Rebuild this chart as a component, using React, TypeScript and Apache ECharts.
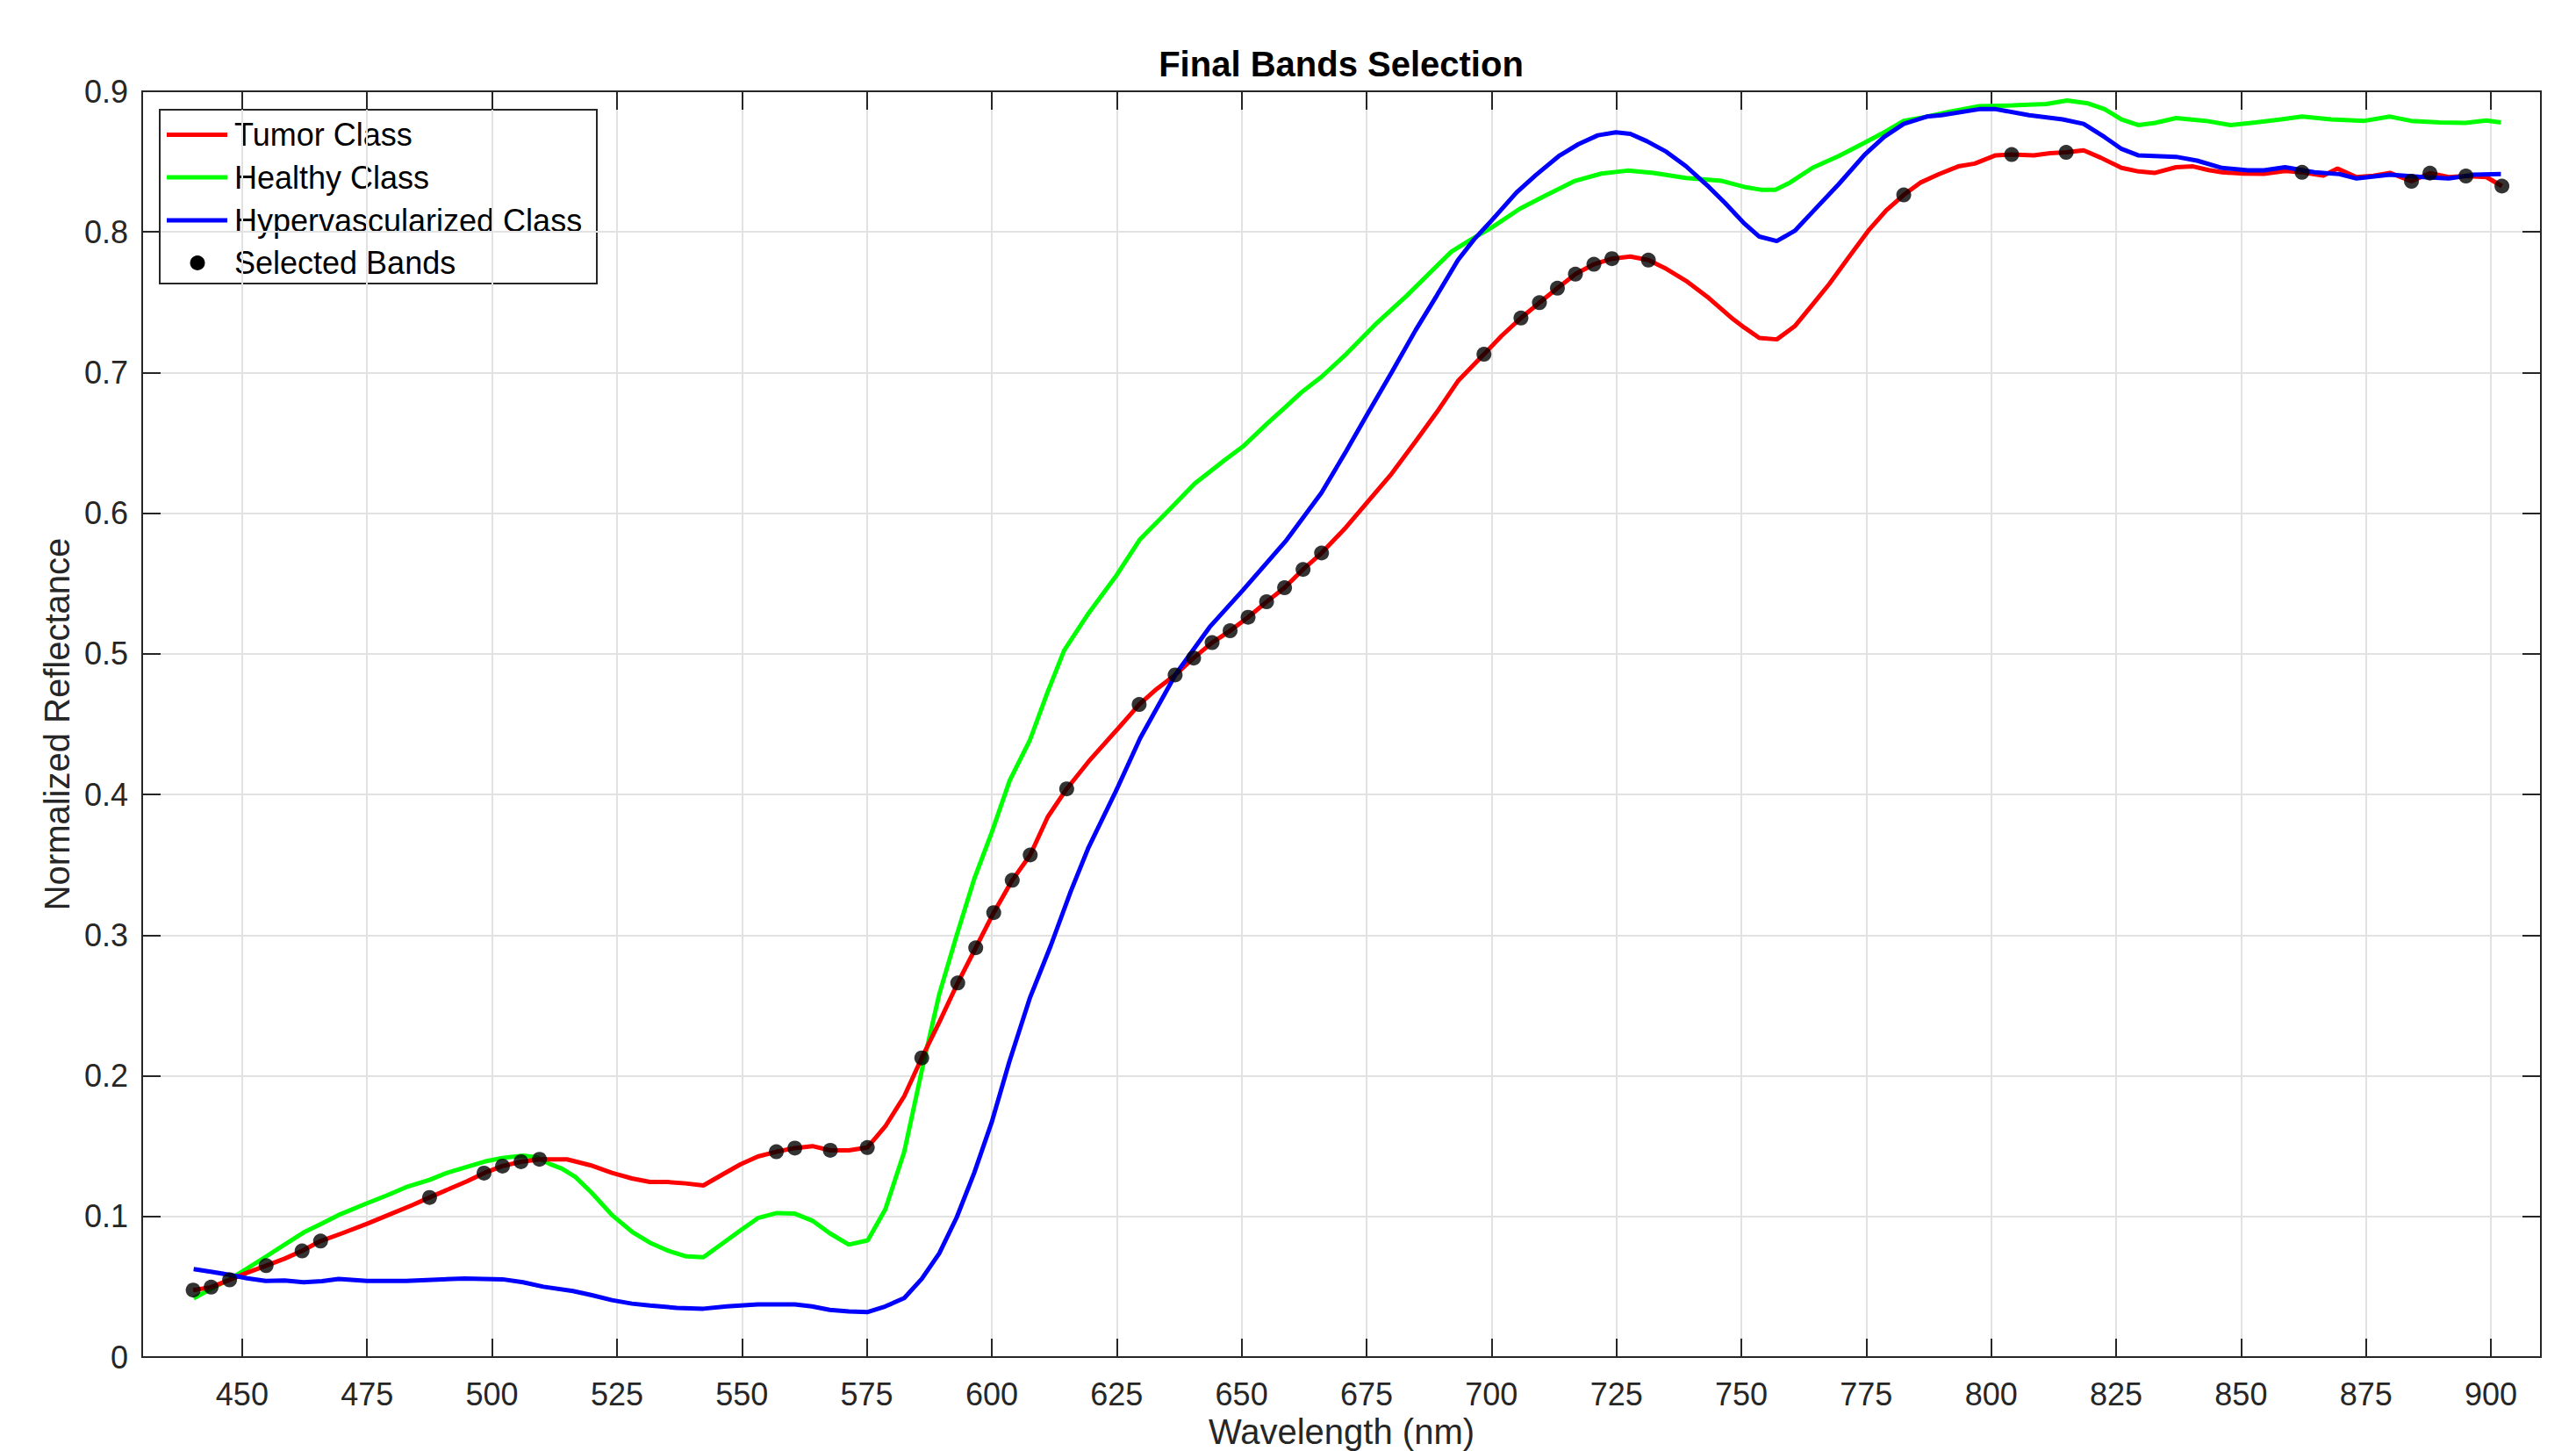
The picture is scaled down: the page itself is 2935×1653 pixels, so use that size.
import React, { useEffect, useRef } from "react";
import * as echarts from "echarts";

const chartTitle = "Final Bands Selection";
const xAxisName = "Wavelength (nm)";
const yAxisName = "Normalized Reflectance";
const legendNames = ["Tumor Class", "Healthy Class", "Hypervascularized Class", "Selected Bands"];
const xTickValues = [450, 475, 500, 525, 550, 575, 600, 625, 650, 675, 700, 725, 750, 775, 800, 825, 850, 875, 900];

const tumorClass: [number, number][] = [
  [440.2, 0.0476], [443.8, 0.0497], [447.5, 0.0549], [451, 0.06], [454.8, 0.065], [458.5, 0.07], [462, 0.0755],
  [465.7, 0.0825], [470, 0.088], [475, 0.0948], [479.9, 0.102], [484, 0.108], [487.5, 0.1135], [491.6, 0.1198],
  [495, 0.125], [498.4, 0.1308], [502.1, 0.1358], [505.8, 0.1389], [509.5, 0.1406], [515, 0.1406], [519.7, 0.1364],
  [524, 0.131], [528, 0.127], [531.6, 0.1245], [535.1, 0.1245], [538.7, 0.1235], [542.3, 0.122], [546.2, 0.13],
  [549.7, 0.137], [553.2, 0.1426], [556.9, 0.146], [560.6, 0.1486], [564.1, 0.15], [567.7, 0.147], [571.4, 0.147],
  [575.1, 0.149], [578.7, 0.164], [582.5, 0.1855], [586, 0.2127], [589.5, 0.238], [593.2, 0.266], [596.8, 0.291],
  [600.4, 0.316], [604.1, 0.339], [607.7, 0.357], [611.2, 0.384], [615, 0.404], [619.4, 0.4235], [624.8, 0.445],
  [629.5, 0.464], [633, 0.475], [636.7, 0.485], [640.4, 0.497], [644.1, 0.508], [647.7, 0.5164], [651.3, 0.526],
  [655, 0.537], [658.6, 0.547], [662.3, 0.56], [666, 0.5717], [670.9, 0.59], [675.2, 0.608], [680, 0.628],
  [684.8, 0.651], [689.1, 0.672], [693.3, 0.694], [698.5, 0.713], [702, 0.726], [705.9, 0.7388], [709.6, 0.7497],
  [713.2, 0.76], [716.8, 0.77], [720.5, 0.777], [724.1, 0.781], [727.8, 0.7825], [731.4, 0.78], [735, 0.7737],
  [738.9, 0.7653], [743.5, 0.753], [748, 0.739], [750.6, 0.732], [753.6, 0.7246], [757.1, 0.7236], [760.7, 0.733],
  [764.3, 0.7486], [767.6, 0.763], [771.5, 0.782], [775.4, 0.8008], [779, 0.8154], [782.5, 0.8263], [785.8, 0.835],
  [789.5, 0.841], [793.4, 0.8466], [796.7, 0.8486], [800.9, 0.8545], [804.1, 0.855], [808.5, 0.8545], [811.8, 0.856],
  [815, 0.8566], [818.5, 0.858], [821.9, 0.8528], [826.1, 0.8455], [829.5, 0.843], [832.8, 0.842], [837, 0.846],
  [840.4, 0.8466], [843.5, 0.844], [846.2, 0.8424], [850.4, 0.8415], [854.6, 0.8413], [858.8, 0.8434], [862.2, 0.8424],
  [866.4, 0.84], [869.3, 0.845], [873.1, 0.839], [876.5, 0.84], [879.8, 0.842], [884.1, 0.836], [887.8, 0.8418],
  [891.5, 0.839], [895, 0.8397], [899.1, 0.839], [902.2, 0.8326],
];

const healthyClass: [number, number][] = [
  [440.3, 0.0418], [444, 0.049], [447.5, 0.0553], [451, 0.063], [454.7, 0.0713], [458.5, 0.08], [462.3, 0.0886],
  [466, 0.095], [469.3, 0.101], [475, 0.1094], [479, 0.115], [482.8, 0.1208], [487.5, 0.126], [491, 0.131],
  [495.1, 0.1354], [498.5, 0.139], [502.1, 0.1416], [506.2, 0.1433], [509, 0.142], [511.5, 0.1374], [514, 0.134],
  [516.7, 0.128], [519.9, 0.117], [524, 0.101], [528.1, 0.0889], [531.6, 0.0813], [535.1, 0.0758], [538.9, 0.0716],
  [542.3, 0.071], [546.2, 0.081], [549.7, 0.09], [553.2, 0.0988], [557, 0.1024], [560.6, 0.102], [564.1, 0.097],
  [567.6, 0.088], [571.4, 0.08], [575.2, 0.083], [578.7, 0.105], [582.5, 0.146], [586, 0.2036], [589.5, 0.258],
  [593, 0.3], [596.5, 0.34], [600, 0.373], [603.6, 0.41], [607.6, 0.4383], [611.2, 0.473], [614.5, 0.5025],
  [619.4, 0.529], [624.8, 0.555], [629.7, 0.5816], [635.7, 0.603], [640.6, 0.621], [646.7, 0.638], [650.3, 0.6475],
  [655.2, 0.664], [658.8, 0.6755], [662, 0.686], [666, 0.697], [670.9, 0.713], [677, 0.735], [683, 0.7545],
  [689.1, 0.776], [692, 0.786], [695.9, 0.7946], [700, 0.803], [705.7, 0.8165], [710.9, 0.826], [716.7, 0.8363],
  [722, 0.8415], [727.2, 0.8436], [732.4, 0.842], [738.9, 0.8384], [746.1, 0.8363], [750.6, 0.832], [753.9, 0.83],
  [756.8, 0.83], [759.7, 0.835], [764.3, 0.8457], [769.5, 0.854], [774.7, 0.8635], [778, 0.8697], [782.5, 0.879],
  [787.1, 0.882], [791.5, 0.8854], [797.6, 0.8894], [804.3, 0.89], [811, 0.891], [815.2, 0.8935], [819.4, 0.8914],
  [822.7, 0.8873], [826.1, 0.88], [829.4, 0.876], [832.8, 0.8775], [837, 0.881], [842.9, 0.879], [847.9, 0.876],
  [852.9, 0.8778], [858, 0.88], [862.2, 0.882], [868, 0.88], [874.7, 0.879], [879.8, 0.882], [884, 0.879],
  [889.8, 0.8778], [894.9, 0.8775], [899.1, 0.8793], [902, 0.8778],
];

const hypervascularizedClass: [number, number][] = [
  [440.3, 0.0626], [444, 0.0605], [447.7, 0.0584], [451, 0.056], [454.7, 0.0542], [458.5, 0.0545], [462.3, 0.0532],
  [466, 0.054], [469.3, 0.0555], [475, 0.0542], [482.8, 0.0542], [488, 0.055], [494.5, 0.0558], [502.1, 0.0553],
  [506.2, 0.0532], [510.3, 0.05], [516.2, 0.047], [520, 0.044], [524, 0.0405], [528, 0.038], [531.6, 0.0366],
  [537, 0.035], [542.3, 0.0344], [547, 0.036], [553.2, 0.0375], [560.6, 0.0375], [564, 0.036], [567.6, 0.0335],
  [571.4, 0.0325], [575.2, 0.032], [578.7, 0.036], [582.5, 0.042], [586, 0.0556], [589.5, 0.0737], [593, 0.0994],
  [596.5, 0.131], [600, 0.167], [603.5, 0.2097], [607.6, 0.255], [611.8, 0.2924], [615.8, 0.331], [619.4, 0.3626],
  [624.8, 0.402], [629.7, 0.44], [636.9, 0.486], [643.6, 0.519], [650.3, 0.5454], [658.8, 0.58], [666, 0.6146],
  [670.9, 0.644], [675.2, 0.6706], [680, 0.7], [684.8, 0.73], [689.1, 0.755], [693.3, 0.78], [696.5, 0.7946],
  [700, 0.808], [705, 0.828], [708.9, 0.8405], [713.5, 0.854], [717.4, 0.8624], [721.3, 0.8687], [724.9, 0.8708],
  [727.8, 0.8697], [731.1, 0.8645], [735, 0.857], [738.9, 0.8468], [743.5, 0.832], [746.7, 0.8207], [750.6, 0.806],
  [753.6, 0.7967], [757.1, 0.7935], [760.7, 0.8008], [764.3, 0.8144], [769.5, 0.834], [774.7, 0.855], [778.6, 0.8676],
  [782.5, 0.8768], [787.1, 0.882], [790, 0.883], [797.6, 0.8873], [800.9, 0.8873], [807.6, 0.883], [814.3, 0.88],
  [818.5, 0.8768], [822.7, 0.8674], [826.1, 0.859], [829.4, 0.8545], [837, 0.8534], [841.2, 0.8507], [846.2, 0.8455],
  [851.3, 0.8438], [854.6, 0.8438], [858.8, 0.846], [864.7, 0.8424], [869.7, 0.8411], [873.1, 0.838], [879.8, 0.8407],
  [886.5, 0.839], [891.5, 0.838], [896.6, 0.8407], [902, 0.8411],
];

const selectedBands: [number, number][] = [
  [440.2, 0.0476], [443.8, 0.0497], [447.5, 0.0549], [454.8, 0.065], [462, 0.0755], [465.7, 0.0825], [487.5, 0.1135],
  [498.4, 0.1308], [502.1, 0.1358], [505.8, 0.1389], [509.5, 0.1406], [556.9, 0.146], [560.6, 0.1486], [567.7, 0.147],
  [575.1, 0.149], [586, 0.2127], [593.2, 0.266], [596.8, 0.291], [600.4, 0.316], [604.1, 0.339], [607.7, 0.357],
  [615, 0.404], [629.5, 0.464], [636.7, 0.485], [640.4, 0.497], [644.1, 0.508], [647.7, 0.5164], [651.3, 0.526],
  [655, 0.537], [658.6, 0.547], [662.3, 0.56], [666, 0.5717], [698.5, 0.713], [705.9, 0.7388], [709.6, 0.7497],
  [713.2, 0.76], [716.8, 0.77], [720.5, 0.777], [724.1, 0.781], [731.4, 0.78], [782.5, 0.8263], [804.1, 0.855],
  [815, 0.8566], [862.2, 0.8424], [884.1, 0.836], [887.8, 0.8418], [895, 0.8397], [902.2, 0.8326],
];

const FONT = "'Liberation Sans', Arial, Helvetica, sans-serif";
const AXIS_COLOR = "#262626";
const GRID_COLOR = "#e2e2e2";
const seriesColors = ["#ff0000", "#00ff00", "#0000ff", "#000000"];

export default function App() {
  const ref = useRef<HTMLDivElement>(null);

  useEffect(() => {
    if (!ref.current) return;
    const chart = echarts.init(ref.current, undefined, { renderer: "svg" });

    const grid = { left: 162, top: 104, right: 40, bottom: 107 };

    const baseX = {
      type: "value",
      min: 430,
      max: 910,
      axisLine: { show: true, onZero: false, lineStyle: { color: AXIS_COLOR, width: 2 } },
      axisTick: { show: true, inside: true, length: 21, customValues: xTickValues, lineStyle: { color: AXIS_COLOR, width: 2 } },
    };
    const baseY = {
      type: "value",
      min: 0,
      max: 0.9,
      interval: 0.1,
      axisLine: { show: true, onZero: false, lineStyle: { color: AXIS_COLOR, width: 2 } },
      axisTick: { show: true, inside: true, length: 21, lineStyle: { color: AXIS_COLOR, width: 2 } },
    };

    // legend drawn as graphics
    const legendLeft = 182;
    const legendTop = 125;
    const rowYs = [153.5, 202, 251, 299.5];
    const legendChildren: any[] = [
      {
        type: "rect",
        shape: { x: legendLeft, y: legendTop, width: 498, height: 198 },
        style: { fill: "#ffffff", stroke: AXIS_COLOR, lineWidth: 2 },
      },
    ];
    legendNames.forEach((name, i) => {
      const y = rowYs[i];
      if (i < 3) {
        legendChildren.push({
          type: "line",
          shape: { x1: 190, y1: y, x2: 259, y2: y },
          style: { stroke: seriesColors[i], lineWidth: 5 },
        });
      } else {
        legendChildren.push({
          type: "circle",
          shape: { cx: 225, cy: y, r: 8.5 },
          style: { fill: "#000000" },
        });
      }
      legendChildren.push({
        type: "text",
        x: 267,
        y: y,
        style: {
          text: name,
          fill: "#000000",
          font: `36px ${FONT}`,
          textVerticalAlign: "middle",
          verticalAlign: "middle",
        },
      });
    });

    chart.setOption({
      animation: false,
      backgroundColor: "#ffffff",
      textStyle: { fontFamily: FONT },
      grid: {
        ...grid,
        containLabel: false,
        outerBoundsMode: "none",
        show: true,
        borderColor: AXIS_COLOR,
        borderWidth: 2,
        backgroundColor: "#ffffff",
      },
      xAxis: [
        {
          ...baseX,
          position: "bottom",
          name: xAxisName,
          nameLocation: "middle",
          nameGap: 62,
          nameTextStyle: { fontSize: 40, color: AXIS_COLOR, fontFamily: FONT },
          axisLabel: { show: true, customValues: xTickValues, fontSize: 36, color: AXIS_COLOR, margin: 24, fontFamily: FONT },
          splitLine: { show: true, lineStyle: { color: GRID_COLOR, width: 2 } },
        },
        {
          ...baseX,
          position: "top",
          axisLabel: { show: false },
          splitLine: { show: false },
        },
      ],
      yAxis: [
        {
          ...baseY,
          position: "left",
          name: yAxisName,
          nameLocation: "middle",
          nameGap: 74,
          nameTextStyle: { fontSize: 40, color: AXIS_COLOR, fontFamily: FONT },
          axisLabel: { show: true, fontSize: 36, color: AXIS_COLOR, margin: 16, fontFamily: FONT },
          splitLine: { show: true, lineStyle: { color: GRID_COLOR, width: 2 } },
        },
        {
          ...baseY,
          position: "right",
          axisLabel: { show: false },
          splitLine: { show: false },
        },
      ],
      series: [
        {
          name: legendNames[0],
          type: "line",
          data: tumorClass,
          symbol: "none",
          lineStyle: { color: seriesColors[0], width: 5 },
          z: 3,
        },
        {
          name: legendNames[1],
          type: "line",
          data: healthyClass,
          symbol: "none",
          lineStyle: { color: seriesColors[1], width: 5 },
          z: 2,
        },
        {
          name: legendNames[2],
          type: "line",
          data: hypervascularizedClass,
          symbol: "none",
          lineStyle: { color: seriesColors[2], width: 5 },
          z: 4,
        },
        {
          name: legendNames[3],
          type: "scatter",
          data: selectedBands,
          symbol: "circle",
          symbolSize: 17,
          itemStyle: { color: seriesColors[3] },
          z: 5,
        },
      ],
      graphic: [
        {
          type: "text",
          x: 1528,
          y: 73,
          style: {
            text: chartTitle,
            fill: "#000000",
            font: `bold 40px ${FONT}`,
            textAlign: "center",
            align: "center",
            textVerticalAlign: "middle",
            verticalAlign: "middle",
          },
          z: 10,
        },
        {
          type: "group",
          z: 20,
          children: legendChildren,
        },
      ],
    });

    return () => {
      chart.dispose();
    };
  }, []);

  return (
    <div
      ref={ref}
      style={{ position: "fixed", left: 0, top: 0, width: 2935, height: 1653, background: "#ffffff" }}
    />
  );
}
